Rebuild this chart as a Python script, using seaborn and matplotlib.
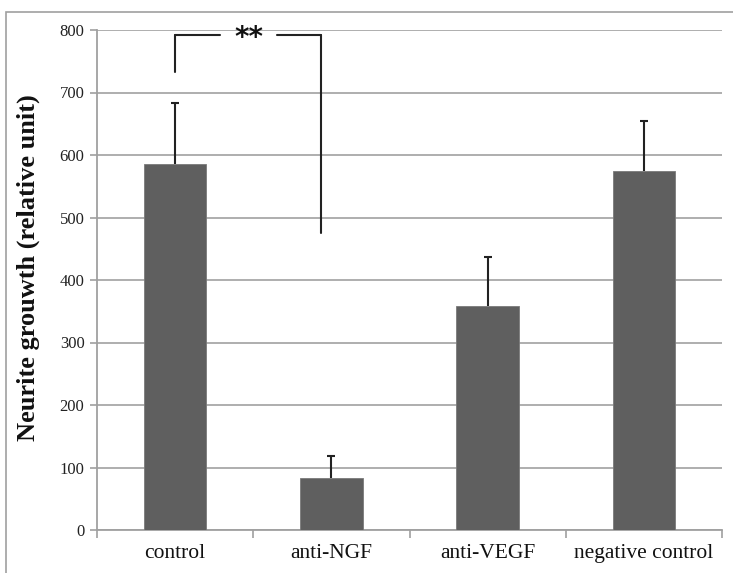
import matplotlib
matplotlib.use("Agg")
import matplotlib.pyplot as plt
import seaborn as sns
import numpy as np
import pandas as pd
from matplotlib.patches import Rectangle

categories = ["control", "anti-NGF", "anti-VEGF", "negative control"]
values = [585, 83, 358, 575]
errors = [99, 36, 79, 79]
y_ticks = [0, 100, 200, 300, 400, 500, 600, 700, 800]
ylabel = "Neurite grouwth (relative unit)"
sig_text = "**"

sns.set_theme(style="white")
plt.rcParams['font.family'] = ['Liberation Serif', 'DejaVu Serif']

fig = plt.figure(figsize=(7.33, 5.73), dpi=100)
ax = fig.add_axes([97/733, 1-530/573, (722-97)/733, 500/573])

df = pd.DataFrame({"cat": categories, "val": values})
sns.barplot(data=df, x="cat", y="val", ax=ax, color="#5f5f5f", width=0.4,
            saturation=1, edgecolor="#7a7a7a", linewidth=0.6, zorder=3)

x = np.arange(len(categories))
eb = ax.errorbar(x, values, yerr=[np.zeros(len(values)), errors], fmt="none",
                 ecolor="#222222", elinewidth=1.5, capsize=3, capthick=1.5, zorder=4)
# hide lower caps (only upward error shown)
caplines = eb[1]
if len(caplines) == 2:
    caplines[0].set_visible(False)

ax.set_xlim(-0.5, len(categories) - 0.5)
ax.set_ylim(0, 800)
ax.set_yticks(y_ticks)
ax.set_yticklabels([str(t) for t in y_ticks], fontsize=12, color="#222222")
ax.yaxis.grid(True, color="#a8a8a8", linewidth=1.3, zorder=0)
ax.set_axisbelow(True)

# x ticks: marks at boundaries, labels at centers
ax.set_xticks(np.arange(-0.5, len(categories)), minor=False)
ax.set_xticklabels([])
ax.set_xticks(x, minor=True)
ax.set_xticklabels(categories, minor=True, fontsize=15.5, color="#111111")
ax.tick_params(axis="x", which="major", length=6, width=1.2, color="#a0a0a0", bottom=True, direction="out")
ax.tick_params(axis="x", which="minor", length=0, pad=10)
ax.tick_params(axis="y", length=5, width=1.2, color="#a0a0a0", left=True, direction="out", pad=4)

for s in ["top", "right"]:
    ax.spines[s].set_visible(False)
for s in ["left", "bottom"]:
    ax.spines[s].set_color("#a0a0a0")
    ax.spines[s].set_linewidth(1.3)

ax.set_xlabel("")
ax.set_ylabel(ylabel, fontsize=19, fontweight="bold", color="#111111")
ax.yaxis.set_label_coords(-0.091, 0.524)

# significance bracket
bx0, bx1 = 0.0, 0.934
by = 792
ax.plot([bx0, bx0], [733, by], color="#222222", lw=1.5, clip_on=False, zorder=5)
ax.plot([bx0, 0.29], [by, by], color="#222222", lw=1.5, clip_on=False, zorder=5)
ax.plot([0.65, bx1], [by, by], color="#222222", lw=1.5, clip_on=False, zorder=5)
ax.plot([bx1, bx1], [by, 476], color="#222222", lw=1.5, clip_on=False, zorder=5)
ax.text(0.47, by - 4, sig_text, ha="center", va="center", fontsize=20,
        fontweight="bold", family=["DejaVu Sans"], color="#111111", zorder=6)

# outer frame
fig.patches.append(Rectangle((6/733, -0.1), 1.2, 1 - 12/573 + 0.1,
                             transform=fig.transFigure, fill=False,
                             edgecolor="#a0a0a0", linewidth=1.2))

fig.savefig("out.png", dpi=100)
